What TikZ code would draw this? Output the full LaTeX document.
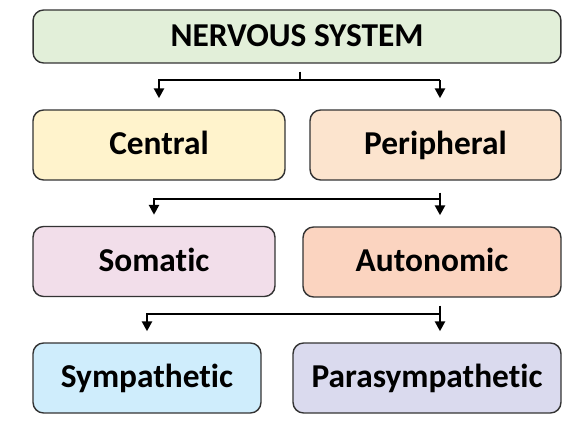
\documentclass[tikz,border=0pt]{standalone}
\usepackage{fontspec}
\setmainfont[Ligatures=NoCommon]{Carlito}
\usetikzlibrary{arrows.meta,positioning,calc}
\definecolor{nsgreen}{RGB}{226,239,217}
\definecolor{cnsyellow}{RGB}{255,243,204}
\definecolor{pnspeach}{RGB}{252,228,206}
\definecolor{somapink}{RGB}{242,222,234}
\definecolor{autosalmon}{RGB}{251,212,192}
\definecolor{sympblue}{RGB}{207,237,252}
\definecolor{parlav}{RGB}{218,218,238}
\tikzset{
  box/.style={rectangle, rounded corners=6pt, draw=black!80, line width=0.8pt,
    minimum height=1.4cm, inner sep=0pt, align=center,
    text height=11pt, text depth=0pt,
    font=\fontsize{19}{22}\selectfont\bfseries},
  link/.style={line width=1.4pt, draw=black},
  flow/.style={link, -{Triangle[length=2mm, width=2mm]}, shorten >=0.22cm},
}

\begin{document}
\begin{tikzpicture}[x=0.02cm, y=-0.02cm]
  \useasboundingbox (0,0) rectangle (586,426);
  % boxes
  \node[box, fill=nsgreen, minimum width=10.56cm, minimum height=1.06cm] (ns) at (297,36.5) {NERVOUS SYSTEM};
  \node[box, fill=cnsyellow, minimum width=5.04cm] (central) at (159,145) {Central};
  \node[box, fill=pnspeach, minimum width=5.02cm] (peripheral) at (435.5,145) {Peripheral};
  \node[box, fill=somapink, minimum width=4.84cm] (somatic) at (154,261.5) {Somatic};
  \node[box, fill=autosalmon, minimum width=5.16cm] (autonomic) at (432,262) {Autonomic};
  \node[box, fill=sympblue, minimum width=4.56cm] (sympathetic) at (147,378) {Sympathetic};
  \node[box, fill=parlav, minimum width=5.36cm] (parasympathetic) at (427,378) {Parasympathetic};
  % branches
  \coordinate (hub1) at (300,80);
  \coordinate (bus1) at (440,80);
  \draw[link] ($(hub1 |- ns.south)+(0,8)$) -- (hub1);
  \draw[flow] (bus1) -- (bus1 |- peripheral.north);
  \draw[flow] (bus1) -- (bus1 -| central) -- (central.north);
  \coordinate (bus2) at (440,199);
  \draw[link] ($(bus2 |- peripheral.south)+(0,12)$) -- (bus2);
  \draw[flow] (bus2) -- (bus2 |- autonomic.north);
  \draw[flow] (bus2) -- (bus2 -| somatic) -- (somatic.north);
  \coordinate (bus3) at (440,314);
  \draw[link] ($(bus3 |- autonomic.south)+(0,8)$) -- (bus3);
  \draw[flow] (bus3) -- (bus3 |- parasympathetic.north);
  \draw[flow] (bus3) -- (bus3 -| sympathetic) -- (sympathetic.north);
\end{tikzpicture}
\end{document}
